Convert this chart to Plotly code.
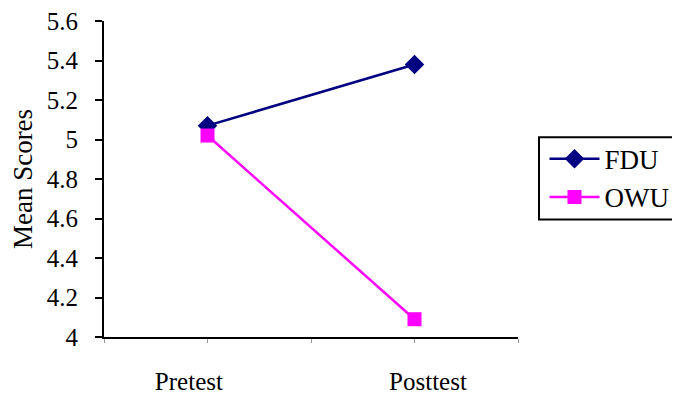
import plotly.graph_objects as go

categories = ["Pretest", "Posttest"]
fdu = [5.07, 5.38]
owu = [5.02, 4.09]
y_ticks = [4.0, 4.2, 4.4, 4.6, 4.8, 5.0, 5.2, 5.4, 5.6]

FONT = "Liberation Serif"
idx = list(range(len(categories)))

fig = go.Figure()
fig.add_trace(go.Scatter(
    x=idx, y=fdu, name="FDU", mode="lines+markers",
    line=dict(color="#000080", width=2.5),
    marker=dict(symbol="diamond", size=15, color="#000080"),
))
fig.add_trace(go.Scatter(
    x=idx, y=owu, name="OWU", mode="lines+markers",
    line=dict(color="#FF00FF", width=2.5),
    marker=dict(symbol="square", size=14, color="#FF00FF"),
))

fig.update_layout(
    width=672, height=392,
    margin=dict(l=96, r=162, t=13, b=63, autoexpand=False),
    paper_bgcolor="white", plot_bgcolor="white",
    font=dict(family=FONT, size=25, color="black"),
    showlegend=True,
    legend=dict(
        x=1.064, y=0.64, xanchor="left", yanchor="top",
        borderwidth=0, bgcolor="rgba(0,0,0,0)",
        font=dict(family=FONT, size=27, color="black"),
        itemwidth=50, tracegroupgap=0,
    ),
    shapes=[dict(type="rect", xref="paper", yref="paper",
                 x0=1.0507, x1=1.3865, y0=0.372, y1=0.632,
                 line=dict(color="black", width=2), fillcolor="rgba(0,0,0,0)")],
    xaxis=dict(
        range=[-0.5, 1.5], showgrid=False, zeroline=False,
        showline=True, linecolor="black", linewidth=2,
        tickmode="array", tickvals=[-0.09, 1.065], ticktext=categories,
        ticks="", ticklabelstandoff=21,
        tickfont=dict(family=FONT, size=25, color="black"),
        minor=dict(tickmode="linear", tick0=-0.5, dtick=0.5, ticks="outside",
                   ticklen=4, tickwidth=1, tickcolor="#999999", showgrid=False),
    ),
    yaxis=dict(
        range=[4.0, 5.6], showgrid=False, zeroline=False,
        showline=True, linecolor="black", linewidth=2,
        tickmode="array", tickvals=y_ticks,
        ticktext=[("%g" % v) for v in y_ticks],
        ticks="outside", ticklen=7, tickwidth=2, tickcolor="black",
        ticklabelstandoff=12, ticklabeloverflow="allow",
        tickfont=dict(family=FONT, size=25, color="black"),
        title=dict(text="Mean Scores", font=dict(family=FONT, size=27, color="black"), standoff=12),
    ),
)

fig.write_html("out.html")
